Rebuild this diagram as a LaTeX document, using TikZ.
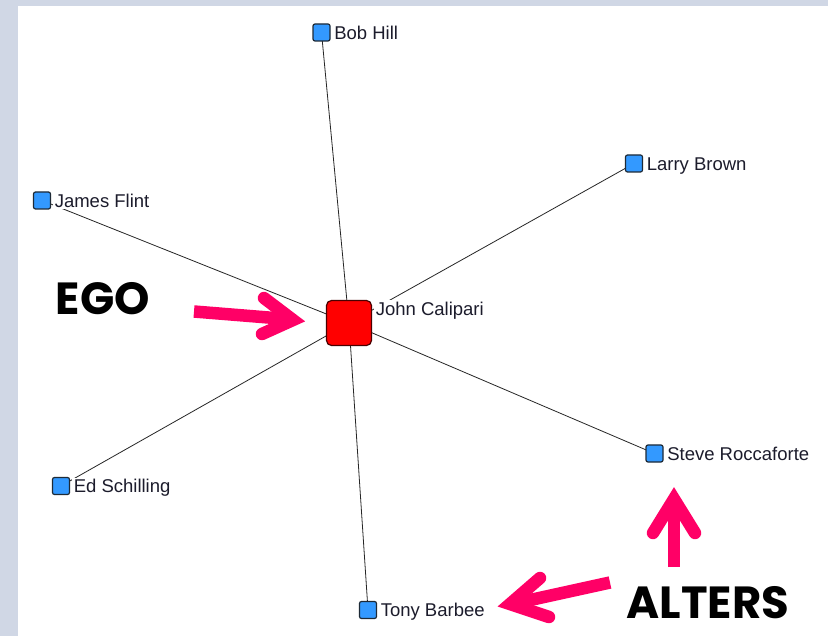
\documentclass[tikz,border=0pt]{standalone}
\usepackage{fontspec}
\setmainfont{Liberation Sans}
\newfontfamily\bigfont{Poppins}
\definecolor{framec}{HTML}{D0D7E5}
\definecolor{altblue}{HTML}{3399FF}
\definecolor{altborder}{HTML}{1E2A36}
\definecolor{egoborder}{HTML}{4A0000}
\definecolor{pinkc}{HTML}{FF0066}
\definecolor{labelcol}{HTML}{1C1C2C}
\pgfdeclarelayer{bg}
\pgfdeclarelayer{edges}
\pgfsetlayers{bg,edges,main}
\begin{document}
\begin{tikzpicture}[x=1pt,y=-1pt,
  alter/.style={draw=altborder, fill=altblue, minimum size=17pt, inner sep=0pt, rounded corners=2pt, line width=1.2pt},
  egonode/.style={draw=egoborder, fill=red, minimum size=45pt, inner sep=0pt, rounded corners=5pt, line width=1.2pt},
  lbl/.style={fill=white, inner sep=1.5pt, anchor=base west, text=labelcol, font=\fontsize{18.5}{20}\selectfont},
  tie/.style={draw=black!85, line width=0.8pt},
  bigtext/.style={inner sep=0pt, font=\bigfont\bfseries\fontsize{45}{45}\selectfont},
  pinkline/.style={draw=pinkc, line width=12.5pt}]
\useasboundingbox (0,0) rectangle (828,636);
\begin{pgfonlayer}{bg}
  \fill[white] (0,0) rectangle (828,636);
  \fill[framec] (0,0) rectangle (828,6);
  \fill[framec] (0,0) rectangle (18,636);
\end{pgfonlayer}
% nodes
\node[egonode] (jc) at (349,323) {};
\node[alter] (bob) at (321.5,32.5) {};
\node[alter] (larry) at (634,163.5) {};
\node[alter] (james) at (42,200.5) {};
\node[alter] (ed) at (61,486) {};
\node[alter] (steve) at (654.5,453.5) {};
\node[alter] (tony) at (368,610) {};
% labels
\node[lbl] (jcl) at ([xshift=2pt,yshift=-15.5pt]jc.north east) {John Calipari};
\node[lbl] (bobl) at ([xshift=2pt,yshift=-6.7pt]bob.east) {Bob Hill};
\node[lbl] (larryl) at ([xshift=2pt,yshift=-6.7pt]larry.east) {Larry Brown};
\node[lbl] (jamesl) at ([xshift=2pt,yshift=-6.7pt]james.east) {James Flint};
\node[lbl] (edl) at ([xshift=2pt,yshift=-6.7pt]ed.east) {Ed Schilling};
\node[lbl] (stevel) at ([xshift=2pt,yshift=-6.7pt]steve.east) {Steve Roccaforte};
\node[lbl] (tonyl) at ([xshift=2pt,yshift=-6.7pt]tony.east) {Tony Barbee};
% ties
\begin{pgfonlayer}{edges}
  \foreach \n in {bob,larry,james,ed,steve,tony}
    \draw[tie] (jc.center) -- (\n.center);
\end{pgfonlayer}
% annotations
\node[bigtext] (ego) at (103,299) {EGO};
\node[bigtext] (alters) at (708,602.5) {ALTERS};
% EGO arrow
\draw[pinkline, line cap=butt] (194,311.5) -- (293,319.5);
\draw[pinkline, line cap=round, line join=miter] (264,298) -- (293,320) -- (262,334);
% ALTERS up arrow
\draw[pinkline, line cap=butt] (674,567) -- (674,500);
\draw[pinkline, line cap=round, line join=miter] (653,533) -- (674,499) -- (695,533);
% ALTERS left arrow
\draw[pinkline, line cap=butt] (610,582.5) -- (512,604);
\draw[pinkline, line cap=round, line join=miter] (540,578) -- (510,604) -- (549,617);
\end{tikzpicture}
\end{document}
